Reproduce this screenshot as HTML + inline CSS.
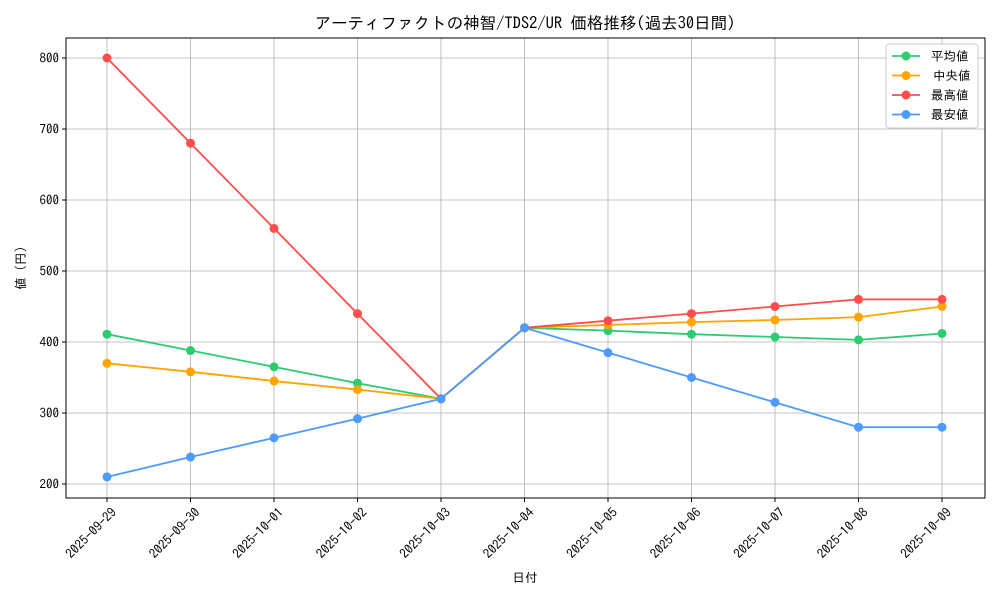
<!DOCTYPE html>
<html><head><meta charset="utf-8"><style>
body{margin:0;background:#fff;}
svg text{font-family:"IPAGothic","Liberation Mono","Noto Sans CJK JP",monospace;fill:#000;}
</style></head><body>
<svg id="chart" width="1000" height="600">
<text x="525" y="29" font-size="16.5" text-anchor="middle">アーティファクトの神智/TDS2/UR 価格推移(過去30日間)</text>
<g id="grid"></g><g id="axes"></g><g id="series"></g>
<text x="525" y="582" font-size="12.5" text-anchor="middle">日付</text>
<text transform="translate(25,268) rotate(-90)" font-size="12.5" text-anchor="middle">値 (円)</text>
<g id="legend"></g>
</svg>
<script>
const dates=["2025-09-29","2025-09-30","2025-10-01","2025-10-02","2025-10-03","2025-10-04","2025-10-05","2025-10-06","2025-10-07","2025-10-08","2025-10-09"];
const avgValues=[411,388,365,342,320,420,416,411,407,403,412];
const medianValues=[370,358,345,333,320,420,424,428,431,435,450];
const maxValues=[800,680,560,440,320,420,430,440,450,460,460];
const minValues=[210,238,265,292,320,420,385,350,315,280,280];
const yTicks=[200,300,400,500,600,700,800];
const seriesNames=["平均値","中央値","最高値","最安値"];
const seriesColors=["#2ecc71","#ffa500","#ff4d4d","#4d9bff"];
const seriesData=[avgValues,medianValues,maxValues,minValues];
const ns="http://www.w3.org/2000/svg";
const L=66,R=985,T=38,B=498;
const xs=i=>107+i*(942-107)/(dates.length-1);
const ys=v=>484-(v-200)*(484-58)/600;
function mk(tag,attrs,parent){const e=document.createElementNS(ns,tag);for(const k in attrs)e.setAttribute(k,attrs[k]);parent.appendChild(e);return e;}
const grid=document.getElementById('grid'),axes=document.getElementById('axes'),ser=document.getElementById('series'),leg=document.getElementById('legend');
dates.forEach((d,i)=>{
 const g=mk('line',{x1:xs(i),x2:xs(i),y1:T,y2:B,stroke:'#b0b0b0','stroke-width':0.8},grid);
 
 
 mk('line',{x1:xs(i),x2:xs(i),y1:B,y2:B+4,stroke:'#000'},axes);
 const t=mk('text',{transform:`translate(${xs(i)+4},${B+9}) rotate(-45)`,'font-size':13,'text-anchor':'end','dominant-baseline':'hanging'},axes);
 t.textContent=d;
 
 
});
yTicks.forEach(v=>{
 const g=mk('line',{x1:L,x2:R,y1:ys(v),y2:ys(v),stroke:'#b0b0b0','stroke-width':0.8},grid);
 
 
 mk('line',{x1:L-4,x2:L,y1:ys(v),y2:ys(v),stroke:'#000'},axes);
 const t=mk('text',{x:L-7,y:ys(v)+4.5,'font-size':13,'text-anchor':'end'},axes);
 t.textContent=v;
 
 
});
const fr=mk('rect',{x:L,y:T,width:R-L,height:B-T,fill:'none',stroke:'#000','stroke-width':1},axes);


seriesData.forEach((vals,s)=>{
 const g=mk('g',{},ser);
 
 
 mk('polyline',{points:vals.map((v,i)=>xs(i)+','+ys(v)).join(' '),fill:'none',stroke:seriesColors[s],'stroke-width':1.8},g);
 vals.forEach((v,i)=>{
  const c=mk('circle',{cx:xs(i),cy:ys(v),r:4.5,fill:seriesColors[s]},g);
  
  
 });
});
const lb=mk('rect',{x:886,y:44,width:92,height:84,fill:'#fff',stroke:'#ccc',rx:3},leg);


seriesNames.forEach((n,s)=>{
 const y=56+s*19.5;
 const g=mk('g',{},leg);
 
 
 mk('line',{x1:892,x2:920,y1:y,y2:y,stroke:seriesColors[s],'stroke-width':1.8},g);
 mk('circle',{cx:906,cy:y,r:4.5,fill:seriesColors[s]},g);
 const t=mk('text',{x:s==1?933:931,y:y+4.5,'font-size':12.5},g);
 t.textContent=n;
});
</script>
</body></html>
